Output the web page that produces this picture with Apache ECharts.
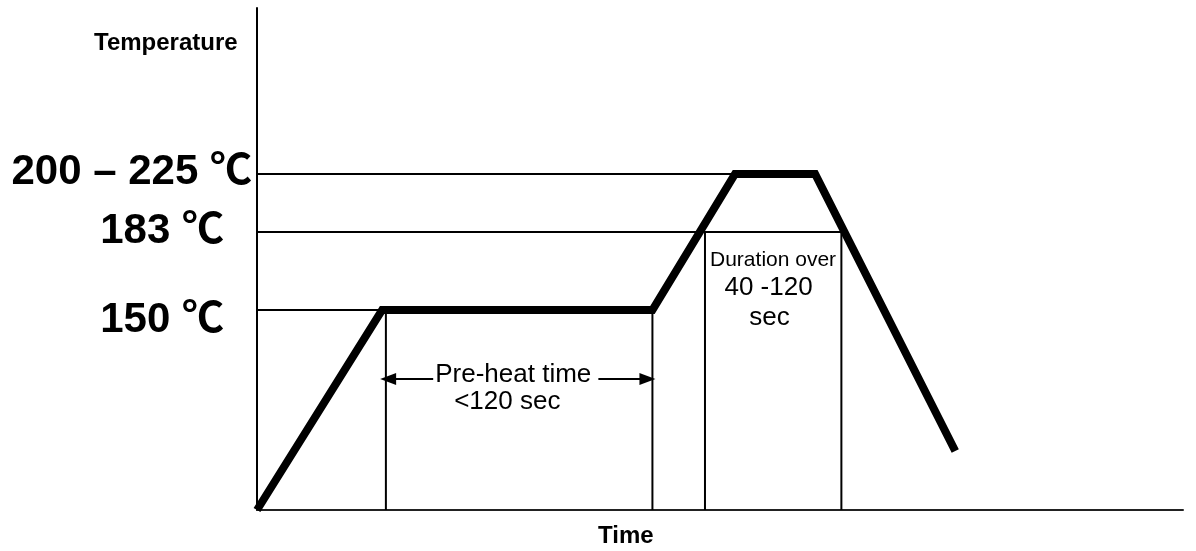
<!DOCTYPE html>
<html>
<head>
<meta charset="utf-8">
<script src="https://cdn.jsdelivr.net/npm/echarts@6/dist/echarts.min.js"></script>
<style>
  html, body { margin: 0; padding: 0; background: #fff; }
  #main { width: 1196px; height: 551px; }
</style>
</head>
<body>
<div id="main"></div>
<script>
// reflow profile, drawn in chart units (not to scale, like the original sketch)
var profileTime = [0, 50, 158, 191, 223, 279];
var profileTemp = [0, 100, 100, 168, 168, 29.5];

// guide levels: peak, liquidus, pre-heat
var levelTemp = [168, 139, 100];
var levelEnd = [191, 233.5, 50];
var levelLabels = ['200 – 225 ℃', '183 ℃', '150 ℃'];

// vertical markers down to the time axis
var markerTime = [51.5, 158, 179, 233.5];
var markerTop = [100, 100, 139, 139];

// annotations
var noteText = ['Pre-heat time', '<120 sec', 'Duration over', '40 -120', 'sec'];
var noteTime = [102.4, 100, 206.2, 204.4, 204.8];
var noteTemp = [67.5, 54, 124.75, 111, 96];
var noteSize = [26, 26, 21, 26, 26];

// pre-heat arrows: [from, to] in time, at one temperature
var arrowTemp = 65.5;
var arrowLeft = [70.4, 52.4];
var arrowRight = [136.4, 156];

var FONT = "'Liberation Sans', Arial, 'Noto Sans CJK SC', sans-serif";
var myChart = echarts.init(document.getElementById('main'));

var series = [];

// thin guide lines
levelTemp.forEach(function (t, i) {
    series.push({
        type: 'line', symbol: 'none', silent: true, z: 2,
        lineStyle: { color: '#000', width: 2 },
        data: [[0, t], [levelEnd[i], t]]
    });
});
markerTime.forEach(function (x, i) {
    series.push({
        type: 'line', symbol: 'none', silent: true, z: 2,
        lineStyle: { color: '#000', width: 2 },
        data: [[x, markerTop[i]], [x, 0]]
    });
});

// the profile itself
series.push({
    type: 'line', symbol: 'none', silent: true, z: 5,
    lineStyle: { color: '#000', width: 8, cap: 'butt', join: 'miter' },
    data: profileTime.map(function (x, i) { return [x, profileTemp[i]]; }),
    markLine: {
        silent: true,
        symbol: ['none', 'triangle'],
        symbolSize: [12, 16],
        label: { show: false },
        lineStyle: { color: '#000', width: 2, type: 'solid' },
        data: [
            [{ coord: [arrowLeft[0], arrowTemp] }, { coord: [arrowLeft[1], arrowTemp] }],
            [{ coord: [arrowRight[0], arrowTemp] }, { coord: [arrowRight[1], arrowTemp] }]
        ]
    }
});

// level labels left of the axis
var labelShift = [[-5, -2], [-33, -1], [-33, 10]];
series.push({
    type: 'scatter', symbolSize: 0, silent: true, z: 10,
    itemStyle: { opacity: 1 },
    data: levelTemp.map(function (t, i) {
        return {
            value: [0, t],
            label: {
                show: true, position: 'left', distance: 0,
                offset: labelShift[i],
                formatter: levelLabels[i],
                color: '#000', fontFamily: FONT, fontWeight: 'bold', fontSize: 42
            }
        };
    })
});

// text notes inside the chart
series.push({
    type: 'scatter', symbolSize: 0, silent: true, z: 10,
    itemStyle: { opacity: 1 },
    data: noteText.map(function (s, i) {
        return {
            value: [noteTime[i], noteTemp[i]],
            label: {
                show: true, position: 'inside', formatter: s,
                color: '#000', fontFamily: FONT, fontSize: noteSize[i]
            }
        };
    })
});

var option = {
    animation: false,
    backgroundColor: '#fff',
    title: [
        { text: 'Temperature', left: 94, top: 31, padding: 0,
          textStyle: { fontFamily: FONT, fontWeight: 'bold', fontSize: 24, color: '#000' } },
        { text: 'Time', left: 598, top: 524, padding: 0,
          textStyle: { fontFamily: FONT, fontWeight: 'bold', fontSize: 24, color: '#000' } }
    ],
    grid: { left: 257, right: 13, top: 8, bottom: 41 },
    xAxis: {
        type: 'value', min: 0, max: 370,
        axisLine: { show: true, onZero: false, lineStyle: { color: '#222', width: 2 } },
        axisTick: { show: false }, axisLabel: { show: false }, splitLine: { show: false }
    },
    yAxis: {
        type: 'value', min: 0, max: 251,
        axisLine: { show: true, onZero: false, lineStyle: { color: '#000', width: 2 } },
        axisTick: { show: false }, axisLabel: { show: false }, splitLine: { show: false }
    },
    series: series
};

myChart.setOption(option);
</script>
</body>
</html>
